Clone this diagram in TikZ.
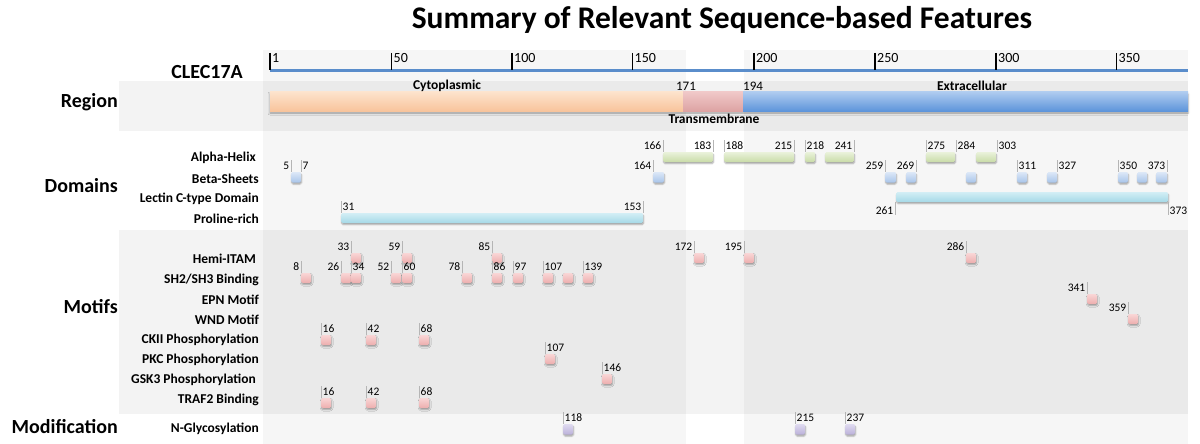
\documentclass[tikz,border=0pt]{standalone}
\usepackage{fontspec}
\setmainfont{Carlito}
\usetikzlibrary{shadows.blur}
\definecolor{cytT}{HTML}{FDE3CC}\definecolor{cytB}{HTML}{F8C49C}
\definecolor{tmT}{HTML}{F0C8C8}\definecolor{tmB}{HTML}{DDA3A3}
\definecolor{exT}{HTML}{AECBEF}\definecolor{exB}{HTML}{5E95DB}
\definecolor{grnT}{HTML}{EAF2DB}\definecolor{grnB}{HTML}{C9DCA8}
\definecolor{bluT}{HTML}{DDE8F7}\definecolor{bluB}{HTML}{A9C5EA}
\definecolor{cyaT}{HTML}{D3EEF5}\definecolor{cyaB}{HTML}{A5D9E7}
\definecolor{pnkT}{HTML}{F9D6D6}\definecolor{pnkB}{HTML}{EDAEAE}
\definecolor{purT}{HTML}{E0DBF0}\definecolor{purB}{HTML}{BBB1DA}
\definecolor{bandc}{HTML}{F3F3F3}
\definecolor{rulerblue}{HTML}{5A8DCB}
\definecolor{tickgray}{HTML}{B5B5B5}
\tikzset{
 titlet/.style={font=\fontsize{31.5}{36}\selectfont\bfseries, inner sep=0},
 secl/.style={font=\fontsize{20}{24}\selectfont\bfseries, anchor=east, inner sep=0},
 rowl/.style={font=\fontsize{13.5}{16}\selectfont\bfseries, anchor=east, inner sep=0},
 regl/.style={font=\fontsize{13.5}{16}\selectfont\bfseries, inner sep=0},
 regn/.style={font=\fontsize{13}{15}\selectfont, inner sep=0},
 numt/.style={font=\fontsize{11.5}{13}\selectfont, inner sep=0},
 rlab/.style={font=\fontsize{14}{16}\selectfont, inner sep=0, anchor=west},
 rtick/.style={draw=black, line width=1.2pt},
 tickline/.style={draw=tickgray, line width=0.9pt},
 featbox/.style={rounded corners=1.5pt, blur shadow={shadow xshift=0.6pt, shadow yshift=-1.6pt, shadow blur radius=1.4pt, shadow blur steps=4, shadow opacity=35}},
}
\newcommand\feat[5]{\path[featbox, top color=#5T, bottom color=#5B] (#1,#3) rectangle (#2,#3+#4);}
\newcommand\numL[4]{\draw[tickline] (#2,#3-12) -- (#2,#3);
 \node[numt, anchor=east] (#1) at (#2-1.5,#3-6.5) {#4};}
\newcommand\numR[4]{\draw[tickline] (#2,#3-12) -- (#2,#3);
 \node[numt, anchor=west] (#1) at (#2+1.5,#3-6.5) {#4};}
\begin{document}
\begin{tikzpicture}[x=1pt,y=-1pt]
\useasboundingbox (0,0) rectangle (1200,444);
% backgrounds
\fill[bandc] (119,81) rectangle (1188,131);
\fill[bandc] (119,230) rectangle (1188,414);
\fill[black, opacity=.035] (263,50) rectangle (686,444);
\fill[black, opacity=.035] (744,50) rectangle (1188,444);
% title
\node[titlet] (title) at (722,20) {Summary of Relevant Sequence-based Features};
\node[secl] (clec) at (243,72) {CLEC17A};
% ruler
\draw[rulerblue, line width=3pt] (270,70.7) -- (1188,70.7);
\foreach \x/\t [count=\i] in {270/1,391.5/50,512/100,632.5/150,754/200,875/250,996/300,1116.5/350}{
 \draw[rtick] (\x,53) -- (\x,70);
 \node[rlab] (rl\i) at (\x+2,58) {\t};
}
% section labels
\node[secl] (sreg) at (118,102) {Region};
\node[secl] (sdom) at (118,186) {Domains};
\node[secl] (smot) at (118,307) {Motifs};
\node[secl] (smod) at (118,427) {Modification};
% row labels
\node[rowl] (lah) at (256,158.3) {Alpha-Helix};
\node[rowl] (lbs) at (259,178.7) {Beta-Sheets};
\node[rowl] (llc) at (259,199) {Lectin C-type Domain};
\node[rowl] (lpr) at (259,219) {Proline-rich};
\node[rowl] (lhi) at (256,259.3) {Hemi-ITAM};
\node[rowl] (lsh) at (259,279.7) {SH2/SH3 Binding};
\node[rowl] (lep) at (259,300) {EPN Motif};
\node[rowl] (lwn) at (259,320) {WND Motif};
\node[rowl] (lck) at (259,340) {CKII Phosphorylation};
\node[rowl] (lpk) at (259,360) {PKC Phosphorylation};
\node[rowl] (lgs) at (256,380) {GSK3 Phosphorylation};
\node[rowl] (ltr) at (259,400) {TRAF2 Binding};
\node[rowl] (lng) at (259,429.3) {N-Glycosylation};
% region bar
\path[blur shadow={shadow xshift=0pt, shadow yshift=-2pt, shadow blur radius=2pt, shadow blur steps=5, shadow opacity=35}, fill=white] (270,92) rectangle (1188,111);
\shade[top color=cytT, bottom color=cytB] (270,92) rectangle (683,111);
\shade[top color=tmT, bottom color=tmB] (683,92) rectangle (743,111);
\shade[top color=exT, bottom color=exB] (743,92) rectangle (1188,111);
\node[regl] (rcyt) at (447,86) {Cytoplasmic};
\node[regl] (rext) at (972,86) {Extracellular};
\node[regl] (rtm) at (714,119) {Transmembrane};
\node[regn] (r171) at (686,86) {171};
\node[regn, anchor=west] (r194) at (743,86) {194};
% alpha helix
\feat{663}{713}{152}{10}{grn}
\numL{a166}{663}{152}{166}\numL{a183}{713}{152}{183}
\feat{724}{794}{152}{10}{grn}
\numR{a188}{724}{152}{188}\numL{a215}{794}{152}{215}
\feat{805}{815}{152}{10}{grn}
\numR{a218}{805}{152}{218}
\feat{825}{854}{152}{10}{grn}
\numL{a241}{854}{152}{241}
\feat{926}{955}{152}{10}{grn}
\numR{a275}{926}{152}{275}
\feat{976}{996}{152}{10}{grn}
\numR{a284}{956}{152}{284}\numR{a303}{997}{152}{303}
% beta sheets
\feat{291}{301}{172}{10.5}{blu}
\numL{b5}{291}{172}{5}\numR{b7}{301}{172}{7}
\feat{653}{664}{172}{10.5}{blu}\numL{b164}{653}{172}{164}
\feat{885}{896}{172}{10.5}{blu}\numL{b259}{885}{172}{259}
\feat{906}{916}{172}{10.5}{blu}\numL{b269}{916}{172}{269}
\feat{966}{976}{172}{10.5}{blu}
\feat{1017}{1027}{172}{10.5}{blu}\numR{b311}{1017}{172}{311}
\feat{1047}{1057}{172}{10.5}{blu}\numR{b327}{1057}{172}{327}
\feat{1118}{1128}{172}{10.5}{blu}\numR{b350}{1118}{172}{350}
\feat{1137}{1147}{172}{10.5}{blu}
\feat{1156}{1167}{172}{10.5}{blu}\numL{b373}{1167}{172}{373}
% lectin
\feat{896}{1168}{192}{10}{cya}
\draw[tickline] (895,202) -- (895,215);
\node[numt, anchor=east] (l261) at (893.5,211) {261};
\draw[tickline] (1168,202) -- (1168,215);
\node[numt, anchor=west] (l373) at (1169.5,211) {373};
% proline
\feat{341}{643}{213}{10}{cya}
\numR{p31}{341}{213}{31}\numL{p153}{643}{213}{153}
% hemi-ITAM
\feat{351}{361}{253}{10}{pnk}\numL{h33}{351}{253}{33}
\feat{402}{412}{253}{10}{pnk}\numL{h59}{402}{253}{59}
\feat{492}{502}{253}{10}{pnk}\numL{h85}{492}{253}{85}
\feat{694}{704}{253}{10}{pnk}\numL{h172}{694}{253}{172}
\feat{744}{754}{253}{10}{pnk}\numL{h195}{744}{253}{195}
\feat{966}{976}{253}{10}{pnk}\numL{h286}{966}{253}{286}
% SH2/SH3
\feat{301}{311}{273}{10}{pnk}\numL{s8}{301}{273}{8}
\feat{341}{351}{273}{10}{pnk}\numL{s26}{341}{273}{26}
\feat{351}{361}{273}{10}{pnk}\numR{s34}{351}{273}{34}
\feat{391}{401}{273}{10}{pnk}\numL{s52}{391}{273}{52}
\feat{402}{412}{273}{10}{pnk}\numR{s60}{402}{273}{60}
\feat{462}{472}{273}{10}{pnk}\numL{s78}{462}{273}{78}
\feat{492}{502}{273}{10}{pnk}\numR{s86}{492}{273}{86}
\feat{513}{523}{273}{10}{pnk}\numR{s97}{513}{273}{97}
\feat{543}{553}{273}{10}{pnk}\numR{s107}{543}{273}{107}
\feat{563}{573}{273}{10}{pnk}
\feat{583}{593}{273}{10}{pnk}\numR{s139}{583}{273}{139}
% EPN, WND
\feat{1087}{1097}{294}{10}{pnk}\numL{e341}{1087}{294}{341}
\feat{1128}{1138}{314}{10}{pnk}\numL{w359}{1128}{314}{359}
% CKII
\feat{321}{331}{335}{10}{pnk}\numR{c16}{321}{335}{16}
\feat{366}{376}{335}{10}{pnk}\numR{c42}{366}{335}{42}
\feat{419}{429}{335}{10}{pnk}\numR{c68}{419}{335}{68}
% PKC, GSK3
\feat{545}{555}{354}{10}{pnk}\numR{k107}{545}{354}{107}
\feat{602}{612}{374}{10}{pnk}\numR{g146}{602}{374}{146}
% TRAF2
\feat{321}{331}{398}{10}{pnk}\numR{t16}{321}{398}{16}
\feat{366}{376}{398}{10}{pnk}\numR{t42}{366}{398}{42}
\feat{419}{429}{398}{10}{pnk}\numR{t68}{419}{398}{68}
% N-glycosylation
\feat{563}{573}{424}{10.5}{pur}\numR{n118}{563}{424}{118}
\feat{795}{805}{424}{10.5}{pur}\numR{n215}{795}{424}{215}
\feat{845}{855}{424}{10.5}{pur}\numR{n237}{845}{424}{237}
\end{tikzpicture}
\end{document}
